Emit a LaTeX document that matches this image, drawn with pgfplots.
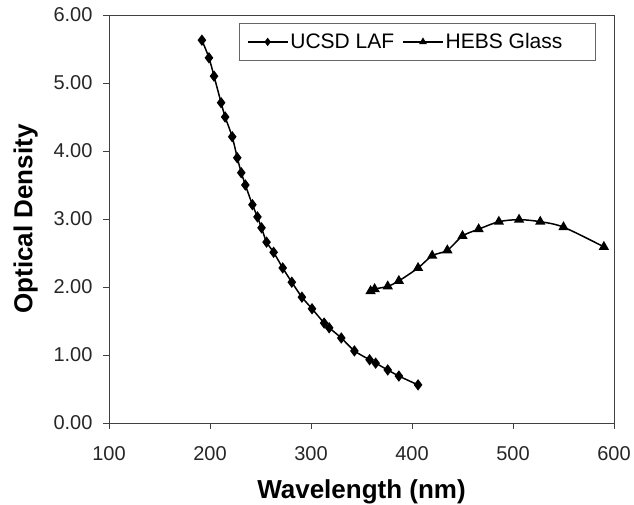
\documentclass[border=0pt]{standalone}
\usepackage{pgfplots}
\pgfplotsset{compat=1.18}
\usepackage{fontspec}
\setmainfont{Liberation Sans}
\usetikzlibrary{calc}

\begin{document}
\begin{tikzpicture}
\begin{axis}[
  scale only axis, width=505bp, height=408bp,
  xmin=100, xmax=600, ymin=0, ymax=6,
  xtick={100,200,...,600}, ytick={0,1,...,6},
  tick align=outside, xtick pos=left, ytick pos=left,
  major tick length=6bp,
  axis line style={black!75, line width=0.8bp},
  tick style={black!75, line width=0.8bp},
  yticklabel style={/pgf/number format/fixed, /pgf/number format/fixed zerofill,
    /pgf/number format/precision=2, xshift=-7bp},
  /pgf/number format/assume math mode=true,
  tick label style={font=\fontsize{20bp}{22bp}\selectfont, text=black!85},
  xticklabel style={yshift=-14bp},
  xlabel={\textbf{Wavelength (nm)}}, ylabel={\textbf{Optical Density}},
  label style={font=\fontsize{26bp}{28bp}\selectfont},
  xlabel style={yshift=-12bp}, ylabel style={yshift=9bp},
  legend columns=2,
  legend style={at={(0.964,0.980)}, anchor=north east, draw=black!60, line width=0.8bp,
    font=\fontsize{21bp}{23bp}\selectfont, inner xsep=7bp, inner ysep=8bp,
    /tikz/every even column/.append style={column sep=6bp}},
  legend image code/.code={\draw[#1, mark size=3bp] (0bp,0bp) -- (20bp,0bp) plot coordinates {(20bp,0bp)} -- (40bp,0bp);},
]
\addplot[black, line width=1.5bp, smooth, tension=0.4, mark=diamond*, mark size=4.5bp] coordinates {
(192,5.63)(199,5.37)(204,5.10)(211,4.71)(215,4.50)(222,4.21)(227,3.90)(231,3.68)(235,3.50)
(242,3.21)(247,3.03)(251,2.87)(256,2.66)(263,2.51)(272,2.28)(281,2.07)(291,1.85)(301,1.68)
(313,1.47)(318,1.40)(330,1.25)(343,1.06)(358,0.93)(364,0.88)(376,0.78)(387,0.69)(406,0.56)};
\addlegendentry{UCSD LAF}
\addplot[black, line width=1.5bp, smooth, tension=0.5, mark=triangle*, mark size=4.5bp] coordinates {
(359,1.94)(363,1.97)(376,2.01)(387,2.09)(406,2.28)(420,2.46)(435,2.54)(450,2.75)(466,2.85)
(486,2.96)(506,2.99)(527,2.96)(550,2.88)(590,2.59)};
\addlegendentry{HEBS Glass\hspace*{24bp}}
\end{axis}
\pgfresetboundingbox
\path ($(current axis.south west)+(-109bp,-82bp)$) rectangle ($(current axis.north east)+(20bp,15bp)$);
\end{tikzpicture}
\end{document}
